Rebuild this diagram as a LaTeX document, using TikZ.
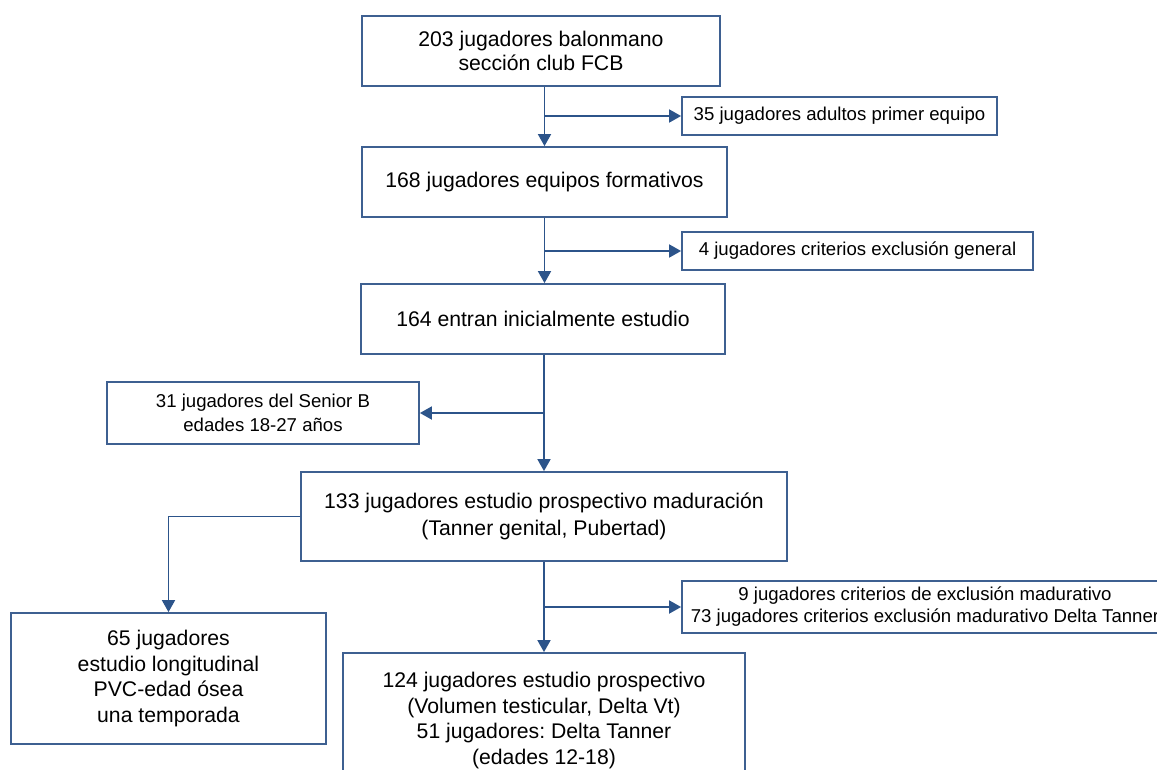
\documentclass[tikz,border=0pt]{standalone}
\usepackage{fontspec}
\setmainfont{Liberation Sans}
\usetikzlibrary{arrows.meta}
\definecolor{lineblue}{RGB}{62,96,145}
\definecolor{arrblue}{RGB}{44,84,138}
\tikzset{
  box/.style={draw=lineblue, line width=1.8pt, rectangle, inner sep=0pt, align=center,
    font=\frenchspacing\fontsize{21.2}{24.5}\selectfont, text=black},
  sidebox/.style={box, font=\frenchspacing\fontsize{18.6}{22}\selectfont},
  arr/.style={draw=arrblue, line width=1.8pt, -{Triangle[width=13pt,length=12pt]}}
}
\begin{document}
\begin{tikzpicture}[x=1pt,y=-1pt]
\useasboundingbox (0,0) rectangle (1157,769);
\clip (0,0) rectangle (1157,769);
\fill[white] (0,0) rectangle (1157,769);

\node[box, minimum width=358pt, minimum height=70pt] (b1) at (541,51) {203 jugadores balonmano\\sección club FCB};
\node[box, minimum width=365pt, minimum height=70pt] (b2) at (544.5,182) {168 jugadores equipos formativos};
\node[box, minimum width=364pt, minimum height=70pt] (b3) at (543,319) {164 entran inicialmente estudio};
\node[box, minimum width=486pt, minimum height=89pt, font=\frenchspacing\fontsize{21.2}{27}\selectfont] (b4) at (544,516.5) {133 jugadores estudio prospectivo maduración\\(Tanner genital, Pubertad)};
\node[box, minimum width=402pt, minimum height=135pt, font=\frenchspacing\fontsize{21.2}{25.7}\selectfont] (b5) at (544,720.5) {124 jugadores estudio prospectivo\\(Volumen testicular, Delta Vt)\\51 jugadores: Delta Tanner\\(edades 12-18)};
\node[box, minimum width=315pt, minimum height=131pt, font=\frenchspacing\fontsize{21.2}{25.7}\selectfont] (b65) at (168.5,678.5) {65 jugadores\\estudio longitudinal\\PVC-edad ósea\\una temporada};

\node[sidebox, minimum width=315pt, minimum height=38pt] (s35) at (839.5,116) {35 jugadores adultos primer equipo};
\node[sidebox, minimum width=351pt, minimum height=38pt] (s4) at (857.5,251) {4 jugadores criterios exclusión general};
\node[sidebox, minimum width=312pt, minimum height=62pt, font=\frenchspacing\fontsize{18.6}{24}\selectfont] (s31) at (263,413) {31 jugadores del Senior B\\edades 18-27 años};
\node[sidebox, minimum width=486pt, minimum height=52pt] (s9) at (925,607) {9 jugadores criterios de exclusión madurativo\\73 jugadores criterios exclusión madurativo Delta Tanner};

\coordinate (j1) at (544.5,116);
\coordinate (j2) at (544.5,251);
\coordinate (j3) at (544,413);
\coordinate (j4) at (544,607);

\draw[arr] (b1.south -| b2.north) -- (b2.north);
\draw[arr] (j1) -- (s35.west);
\draw[arr] (b2.south) -- (b2.south |- b3.north);
\draw[arr] (j2) -- (s4.west);
\draw[arr] (b3.south -| b4.north) -- (b4.north);
\draw[arr] (j3) -- (s31.east);
\draw[arr] (b4.west) -| (b65.north);
\draw[arr] (b4.south) -- (b5.north);
\draw[arr] (j4) -- (s9.west);
\end{tikzpicture}
\end{document}
